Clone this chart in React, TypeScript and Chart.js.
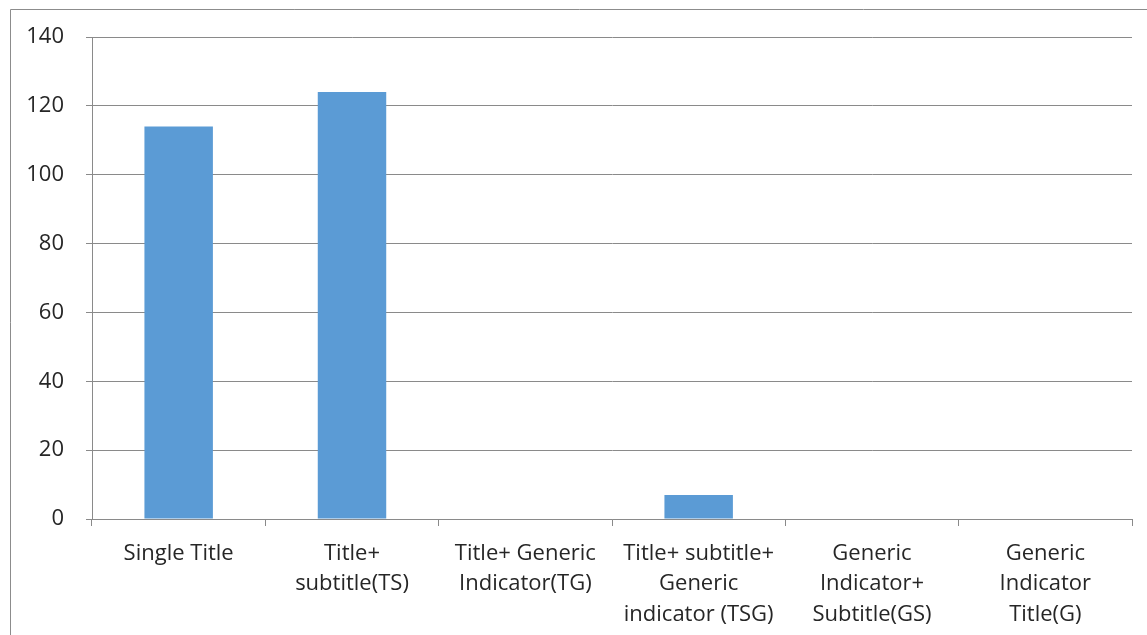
import React, { useEffect, useRef } from "react";
import { Chart, registerables } from "chart.js";

Chart.register(...registerables);

const categories: (string | string[])[] = [
  "Single Title",
  ["Title+", "subtitle(TS)"],
  ["Title+ Generic", "Indicator(TG)"],
  ["Title+ subtitle+", "Generic", "indicator (TSG)"],
  ["Generic", "Indicator+", "Subtitle(GS)"],
  ["Generic", "Indicator", "Title(G)"],
];
const seriesValues: number[] = [114, 124, 0, 7, 0, 0];
const yTicks = { min: 0, max: 140, step: 20 };

const W = 1147;
const H = 635;
const GRID = "#8a8a8a";
const FONT = "'Open Sans'";

const framePlugin = {
  id: "frame",
  beforeDraw(chart: any) {
    const ctx = chart.ctx;
    ctx.save();
    ctx.fillStyle = "#ffffff";
    ctx.fillRect(0, 0, chart.width, chart.height);
    ctx.strokeStyle = "#8c8c8c";
    ctx.lineWidth = 1;
    ctx.beginPath();
    ctx.moveTo(10.5, chart.height + 5);
    ctx.lineTo(10.5, 9.5);
    ctx.lineTo(chart.width + 5, 9.5);
    ctx.stroke();
    ctx.restore();
  },
};

export default function App() {
  const ref = useRef<HTMLCanvasElement | null>(null);
  useEffect(() => {
    if (!ref.current) return;
    const chart = new Chart(ref.current, {
      type: "bar",
      data: {
        labels: categories,
        datasets: [
          {
            data: seriesValues,
            backgroundColor: "#5B9BD5",
            borderWidth: 0,
            categoryPercentage: 1,
            barPercentage: 0.395,
          },
        ],
      },
      options: {
        animation: false,
        responsive: false,
        layout: { padding: { top: 37, right: 15, left: 0, bottom: 0 } },
        plugins: {
          legend: { display: false },
          tooltip: { enabled: false },
        },
        scales: {
          x: {
            grid: {
              offset: true,
              drawOnChartArea: false,
              drawTicks: true,
              tickLength: 7,
              color: GRID,
            },
            border: { display: true, color: GRID },
            ticks: {
              color: "#262626",
              font: { family: FONT, size: 22, lineHeight: 1.37 },
              padding: 13,
              maxRotation: 0,
              minRotation: 0,
              autoSkip: false,
            },
            afterFit(scale: any) {
              scale.height = H - 519;
            },
          },
          y: {
            min: yTicks.min,
            max: yTicks.max,
            grid: { color: GRID, tickLength: 6, drawTicks: true },
            border: { display: true, color: GRID },
            ticks: {
              stepSize: yTicks.step,
              color: "#262626",
              font: { family: FONT, size: 22 },
              padding: 22,
            },
            afterFit(scale: any) {
              scale.width = 92;
            },
          },
        },
      },
      plugins: [framePlugin],
    });
    return () => chart.destroy();
  }, []);
  return (
    <div style={{ position: "fixed", left: 0, top: 0, width: W, height: H, background: "#fff" }}>
      <canvas ref={ref} width={W} height={H} style={{ display: "block" }} />
    </div>
  );
}
